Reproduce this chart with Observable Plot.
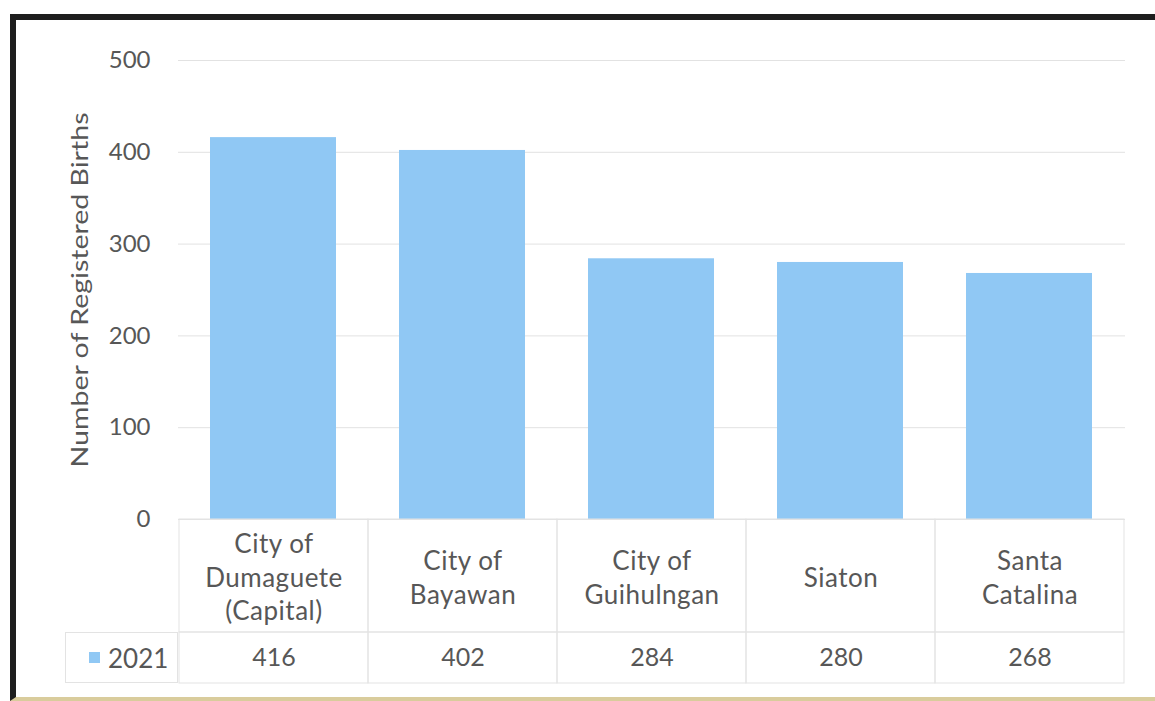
<!DOCTYPE html>
<html><head><meta charset="utf-8">
<script src="https://cdn.jsdelivr.net/npm/d3@7"></script>
<script src="https://cdn.jsdelivr.net/npm/@observablehq/plot@0.6"></script>
<style>
body{margin:0;background:#fff;}
#page{position:relative;width:1155px;height:701px;overflow:hidden;background:#fff;font-family:Lato,sans-serif;color:#575757;}
#frame{position:absolute;left:10px;top:14px;width:1200px;height:687px;border-left:6px solid #1e1e1e;border-top:6px solid #1e1e1e;border-bottom:4px solid #d9cc9c;box-sizing:border-box;}
.abs{position:absolute;left:0;}
#legend{position:absolute;left:65px;top:632px;width:113px;height:51px;border:1px solid #e3e3e3;box-sizing:border-box;display:flex;align-items:center;font-size:26px;}
#legend .sw{display:inline-block;width:11px;height:11px;margin-left:23px;margin-right:8px;}
</style></head><body><div id="page"><div id="frame"></div></div>
<script>
const categories = ["City of\nDumaguete\n(Capital)", "City of\nBayawan", "City of\nGuihulngan", "Siaton", "Santa\nCatalina"];
const values = [416, 402, 284, 280, 268];
const seriesName = "2021";
const yTicks = [0, 100, 200, 300, 400, 500];
const yLabel = "Number of Registered Births";
const barColor = "#90c8f4";
const textColor = "#575757";
const data = categories.map((c, i) => ({category: c, value: values[i]}));

const page = document.getElementById("page");
const common = {width: 1155, marginLeft: 178, marginRight: 30,
  style: {fontFamily: "Lato, sans-serif", color: textColor, background: "transparent", overflow: "visible"}};

const chart = Plot.plot({
  ...common, height: 535, marginTop: 60, marginBottom: 16,
  x: {domain: categories, paddingInner: 0.333, paddingOuter: 0.1665, axis: null},
  y: {domain: [0, 500]},
  marks: [
    Plot.gridY(yTicks, {stroke: "#e2e2e2", strokeOpacity: 1}),
    Plot.axisY(yTicks, {tickSize: 0, tickPadding: 28, fontSize: 24, label: null}),
    Plot.barY(data, {x: "category", y: "value", fill: barColor}),
    Plot.text([yLabel], {frameAnchor: "left", textAnchor: "middle", dx: -98, rotate: -90, fontSize: 24, fill: textColor})
  ]
});
chart.classList.add("abs"); chart.style.top = "0px";
// stretch the rotated axis title like the scanned original
d3.select(chart).selectAll("text").filter(function() { return this.textContent === yLabel; })
  .attr("textLength", 355).attr("lengthAdjust", "spacingAndGlyphs");
page.appendChild(chart);

const catRow = Plot.plot({
  ...common, height: 114, marginTop: 0, marginBottom: 1,
  x: {domain: categories, padding: 0, axis: null},
  marks: [
    Plot.cell(categories, {x: d => d, fill: "none", stroke: "#e3e3e3"}),
    Plot.text(categories, {x: d => d, frameAnchor: "middle", fontSize: 26, lineHeight: 1.29, fill: textColor})
  ]
});
catRow.classList.add("abs"); catRow.style.top = "519px";
catRow.querySelectorAll("text").forEach(t => t.style.letterSpacing = "0.5px");
page.appendChild(catRow);

const valRow = Plot.plot({
  ...common, height: 52, marginTop: 0, marginBottom: 1,
  x: {domain: categories, padding: 0, axis: null},
  marks: [
    Plot.cell(data, {x: "category", fill: "none", stroke: "#e3e3e3"}),
    Plot.text(data, {x: "category", text: d => String(d.value), frameAnchor: "middle", fontSize: 25, fill: textColor})
  ]
});
valRow.classList.add("abs"); valRow.style.top = "632px";
page.appendChild(valRow);

const leg = document.createElement("div");
leg.id = "legend";
leg.innerHTML = `<span class="sw" style="background:${barColor}"></span><span>${seriesName}</span>`;
page.appendChild(leg);
</script></body></html>
